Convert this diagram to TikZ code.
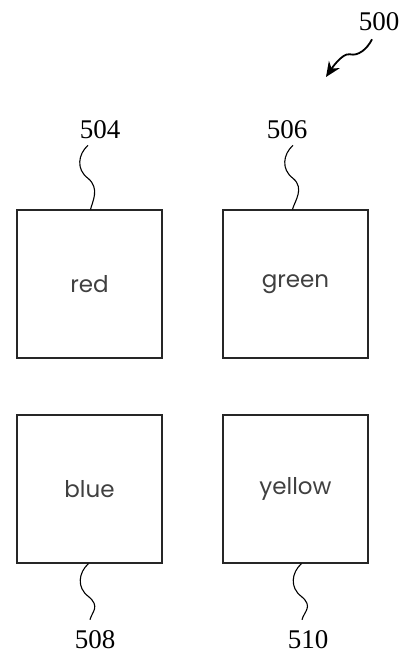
\documentclass[tikz,border=0pt]{standalone}
\usepackage{fontspec}
\setmainfont{Liberation Serif}
\newfontfamily\boxfont{Poppins}
\usetikzlibrary{arrows.meta}
\begin{document}
\begin{tikzpicture}[x=1pt,y=-1pt,
  boxnode/.style={draw=black!85,line width=1.1pt,minimum width=145pt,minimum height=148pt,inner sep=0pt,font=\boxfont\fontsize{23}{23}\selectfont,text=black!75},
  refnum/.style={inner sep=0pt,font=\fontsize{27}{27}\selectfont},
  squig/.style={line width=1.1pt,black}]
\useasboundingbox (0,0) rectangle (404,662);
\node[boxnode] (red) at (89.5,284) {red};
\node[boxnode] (green) at (295.5,284) {green};
\node[boxnode] (blue) at (89.5,489) {blue};
\node[boxnode] (yellow) at (295.5,489) {yellow};
\node[refnum] (l500) at (379,22) {500};
\node[refnum] (l504) at (100,130) {504};
\node[refnum] (l506) at (287,130) {506};
\node[refnum] (l508) at (95,640) {508};
\node[refnum] (l510) at (308,640) {510};
\coordinate (a500) at (326,77);
% upper squiggles
\draw[squig] ([shift={(-12,6)}]l504.south) .. controls +(-10,9) and +(-12,-9) .. ++(0,33) .. controls +(12,10) and +(2,-8) .. ([xshift=1pt]red.north);
\draw[squig] ([shift={(6,6)}]l506.south) .. controls +(-10,9) and +(-12,-9) .. ++(0,33) .. controls +(12,10) and +(2,-8) .. ([xshift=-3pt]green.north);
% lower squiggles
\draw[squig] ([xshift=-1pt]blue.south) .. controls +(-10,9) and +(-12,-9) .. ++(0,33) .. controls +(12,10) and +(2,-8) .. ([shift={(-5,-11)}]l508.north);
\draw[squig] ([xshift=6pt]yellow.south) .. controls +(-10,9) and +(-12,-9) .. ++(0,33) .. controls +(12,10) and +(2,-8) .. ([shift={(-6,-11)}]l510.north);
% 500 arrow
\draw[line width=1.8pt,-{Stealth[length=15pt,width=13pt]}] ([shift={(-7,8)}]l500.south) .. controls +(-5,10) and +(8,2) .. ++(-22,15) .. controls +(-8,-2) and +(4,-6) .. (a500);
\end{tikzpicture}
\end{document}
